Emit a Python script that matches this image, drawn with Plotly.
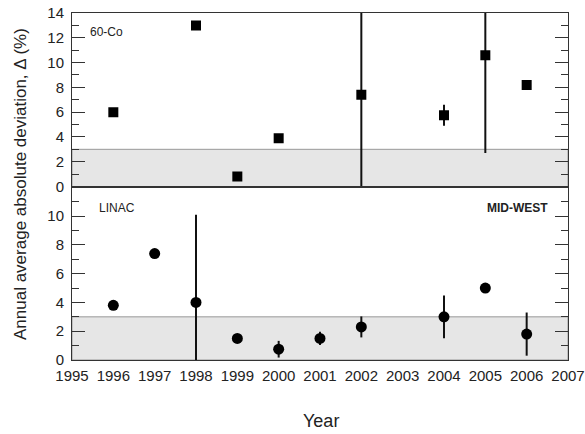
import plotly.graph_objects as go
from plotly.subplots import make_subplots

# 60-Co data (top panel)
co_years = [1996, 1998, 1999, 2000, 2002, 2004, 2005, 2006]
co_values = [6.0, 13.0, 0.8, 3.9, 7.4, 5.75, 10.6, 8.2]
co_errors = [0, 0, 0, 0, 7.5, 0.85, 7.9, 0]

# LINAC data (bottom panel)
li_years = [1996, 1997, 1998, 1999, 2000, 2001, 2002, 2004, 2005, 2006]
li_values = [3.8, 7.4, 4.0, 1.5, 0.75, 1.5, 2.3, 3.0, 5.0, 1.8]
li_errors = [0, 0, 6.1, 0, 0.58, 0.46, 0.73, 1.48, 0, 1.5]

year_ticks = list(range(1995, 2008))
band_limit = 3

FONT = "Liberation Sans, Arial"
AX = "#333"

fig = make_subplots(rows=2, cols=1, shared_xaxes=True, vertical_spacing=0)

fig.add_trace(go.Scatter(
    x=co_years, y=co_values, mode="markers",
    marker=dict(symbol="square", size=10, color="black"),
    error_y=dict(type="data", array=co_errors, visible=True, width=0, thickness=2, color="#111"),
    showlegend=False, hoverinfo="skip"), row=1, col=1)

fig.add_trace(go.Scatter(
    x=li_years, y=li_values, mode="markers",
    marker=dict(symbol="circle", size=11, color="black"),
    error_y=dict(type="data", array=li_errors, visible=True, width=0, thickness=2, color="#111"),
    showlegend=False, hoverinfo="skip"), row=2, col=1)

for yref in ["y", "y2"]:
    fig.add_shape(type="rect", xref="x", yref=yref, x0=1995, x1=2007, y0=0, y1=band_limit,
                  fillcolor="#e6e6e6", line=dict(color="#999", width=1), layer="below")

tick_font = dict(family=FONT, size=15, color="#222")

fig.update_xaxes(range=[1995, 2007], tickvals=year_ticks, showgrid=False, zeroline=False,
                 ticks="", tickfont=tick_font, showline=True, linecolor=AX, linewidth=1, mirror=True,
                 automargin=False, ticklabeloverflow="allow", ticklabelstandoff=2)
fig.update_xaxes(showticklabels=False, row=1, col=1)

common_y = dict(showgrid=False, zeroline=False, ticks="inside", ticklen=13, tickcolor=AX, tickwidth=1,
                tickfont=tick_font, mirror="ticks", showline=True, linecolor=AX, linewidth=1,
                ticklabelstandoff=4, automargin=False, ticklabeloverflow="allow")
fig.update_yaxes(range=[0, 14], tickvals=list(range(0, 15, 2)),
                 minor=dict(tickvals=list(range(1, 14, 2)), ticks="inside", ticklen=7, tickcolor=AX),
                 row=1, col=1, **common_y)
fig.update_yaxes(range=[0, 12.06], tickvals=list(range(0, 11, 2)),
                 minor=dict(tickvals=list(range(1, 12, 2)), ticks="inside", ticklen=7, tickcolor=AX),
                 row=2, col=1, **common_y)

fig.add_annotation(text="60-Co", xref="x", yref="y", x=1995.39, y=12.45, xanchor="left",
                   showarrow=False, font=dict(family=FONT, size=12, color="#222"))
fig.add_annotation(text="LINAC", xref="x2", yref="y2", x=1995.6, y=10.6, xanchor="left",
                   showarrow=False, font=dict(family=FONT, size=12, color="#222"))
fig.add_annotation(text="<b>MID-WEST</b>", xref="x2", yref="y2", x=2006.57, y=10.6, xanchor="right",
                   showarrow=False, font=dict(family=FONT, size=12, color="#222"))

fig.add_annotation(text="Annual average absolute deviation, Δ (%)", xref="paper", yref="paper",
                   x=-0.105, y=0.507, textangle=-90, xanchor="center", yanchor="middle",
                   showarrow=False, font=dict(family=FONT, size=17, color="#222"))
fig.add_annotation(text="Year", xref="paper", yref="paper", x=0.502, y=-0.176,
                   xanchor="center", yanchor="middle",
                   showarrow=False, font=dict(family=FONT, size=18, color="#222"))

fig.update_layout(width=585, height=434, margin=dict(l=72, r=17, t=13, b=74),
                  plot_bgcolor="white", paper_bgcolor="white", hovermode=False)

# remove the default 8px body margin so the figure sits at the page origin
fig.write_html("out.html", config={"displayModeBar": False},
               post_script="document.body.style.margin='0px';")
